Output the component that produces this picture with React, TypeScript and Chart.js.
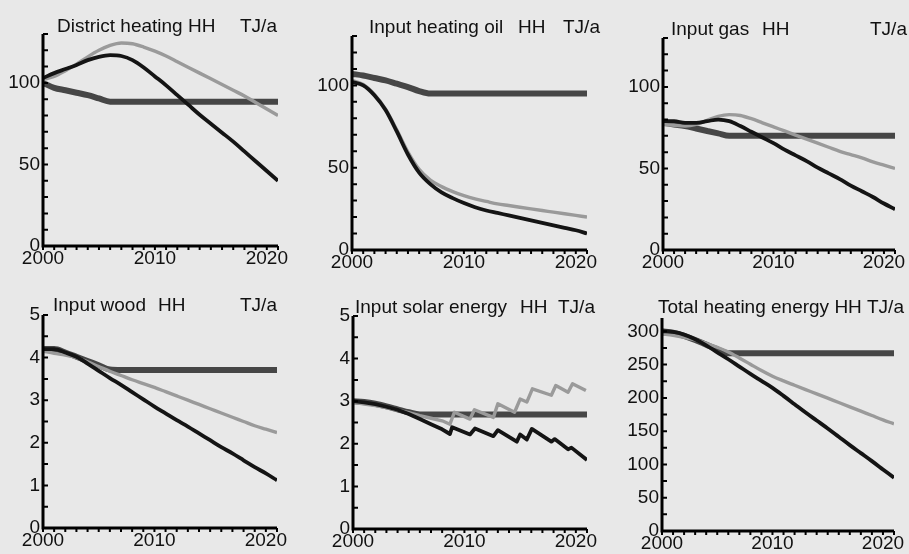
import React, { useEffect, useRef } from "react";
import { Chart, registerables } from "chart.js";

Chart.register(...registerables);

// ---------- data ----------
const YEARS = [2000, 2001, 2002, 2003, 2004, 2005, 2006, 2007, 2008, 2009, 2010, 2011, 2012, 2013, 2014, 2015, 2016, 2017, 2018, 2019, 2020, 2021];

// District heating HH (TJ/a)
const DISTRICT_FLAT = [100, 97, 95.5, 94, 92.5, 90.5, 88.5, 88.5, 88.5, 88.5, 88.5, 88.5, 88.5, 88.5, 88.5, 88.5, 88.5, 88.5, 88.5, 88.5, 88.5, 88.5];
const DISTRICT_DECLINE = [103, 106, 108.5, 111, 114, 116, 117, 116.5, 114, 109.5, 104, 98.5, 92.5, 86.5, 80.5, 75, 69.5, 64, 58, 52, 46, 40];
const DISTRICT_MID = [102, 104, 107.5, 111.5, 116, 120, 123, 124.5, 124, 122, 119.5, 116.5, 113, 109.5, 106, 102.5, 99, 95.5, 92, 88, 84, 80];

// Input heating oil HH (TJ/a)
const OIL_FLAT = [107, 106, 104.5, 103, 101, 99, 96.5, 95, 95, 95, 95, 95, 95, 95, 95, 95, 95, 95, 95, 95, 95, 95];
const OIL_DECLINE = [102, 100, 94, 85, 72, 58, 47, 40, 35, 31.5, 28.5, 26, 24, 22.5, 21, 19.5, 18, 16.5, 15, 13.5, 12, 10];
const OIL_MID = [103, 100.5, 94.5, 85.5, 73, 59.5, 49, 42.5, 38.5, 35.5, 33, 31, 29.5, 28, 27, 26, 25, 24, 23, 22, 21, 20];

// Input gas HH (TJ/a)
const GAS_FLAT = [78, 77, 76, 74.5, 73, 71.5, 70, 70, 70, 70, 70, 70, 70, 70, 70, 70, 70, 70, 70, 70, 70, 70];
const GAS_DECLINE = [79, 79, 78, 78, 79, 80, 79, 76, 72.5, 69, 65.5, 61.5, 58, 54.5, 50.5, 47, 43.5, 39.5, 36, 32.5, 28.5, 25];
const GAS_MID = [77, 76.5, 76, 77, 79.5, 82, 83, 82.5, 80.5, 78, 75.5, 73, 70.5, 68, 65.5, 63, 60.5, 58.5, 56.5, 54, 52, 50];

// Input wood HH (TJ/a)
const WOOD_FLAT = [4.2, 4.2, 4.12, 4.02, 3.92, 3.82, 3.72, 3.71, 3.71, 3.71, 3.71, 3.71, 3.71, 3.71, 3.71, 3.71, 3.71, 3.71, 3.71, 3.71, 3.71, 3.71];
const WOOD_DECLINE = [4.2, 4.2, 4.12, 4.02, 3.86, 3.69, 3.52, 3.36, 3.19, 3.02, 2.85, 2.69, 2.53, 2.38, 2.22, 2.06, 1.9, 1.75, 1.59, 1.43, 1.28, 1.12];
const WOOD_MID = [4.15, 4.1, 4.06, 4.0, 3.9, 3.79, 3.68, 3.58, 3.48, 3.39, 3.3, 3.2, 3.1, 3.0, 2.9, 2.8, 2.7, 2.6, 2.5, 2.4, 2.32, 2.24];

// Input solar energy HH (TJ/a)
const SOLAR_FLAT = [3.0, 2.98, 2.94, 2.88, 2.81, 2.74, 2.69, 2.69, 2.69, 2.69, 2.69, 2.69, 2.69, 2.69, 2.69, 2.69, 2.69, 2.69, 2.69, 2.69, 2.69, 2.69];
const SOLAR_DECLINE_T = [2000, 2001, 2002, 2003, 2004, 2005, 2006, 2007, 2008, 2008.7, 2008.9, 2010.5, 2010.95, 2012.6, 2013.0, 2014.7, 2015.0, 2015.6, 2016.05, 2017.8, 2018.1, 2019.3, 2019.6, 2021];
const SOLAR_DECLINE = [3.0, 2.97, 2.93, 2.87, 2.8, 2.7, 2.58, 2.46, 2.34, 2.23, 2.39, 2.22, 2.36, 2.18, 2.32, 2.05, 2.22, 2.1, 2.35, 2.05, 2.11, 1.87, 1.91, 1.62];
const SOLAR_MID_T = [2000, 2001, 2002, 2003, 2004, 2005, 2006, 2007, 2008, 2008.7, 2009.1, 2010.5, 2010.9, 2012.6, 2013.0, 2014.5, 2015.0, 2015.6, 2016.1, 2017.8, 2018.2, 2019.3, 2019.7, 2020.9];
const SOLAR_MID = [2.98, 2.93, 2.9, 2.85, 2.79, 2.73, 2.66, 2.6, 2.54, 2.46, 2.74, 2.58, 2.8, 2.62, 2.94, 2.74, 3.05, 2.98, 3.29, 3.14, 3.37, 3.21, 3.41, 3.25];

// Total heating energy HH (TJ/a)
const TOTAL_FLAT = [300, 298, 293, 287, 280, 273, 267, 267, 267, 267, 267, 267, 267, 267, 267, 267, 267, 267, 267, 267, 267, 267];
const TOTAL_DECLINE = [300, 299, 295, 288, 279, 268.5, 258, 247, 236, 225.5, 215, 203, 190.5, 178, 166, 154, 141.5, 129, 117, 105, 92.5, 80];
const TOTAL_MID = [296, 294, 291, 287, 282, 276, 269, 260, 250.5, 241, 232.5, 225.5, 219, 212.5, 206, 199.5, 193, 186.5, 180, 173.5, 167, 161];

// ---------- presentation ----------
const W = 909;
const H = 554;
const FONT = '"Liberation Sans", Arial, Helvetica, sans-serif';
const Y_AXIS_W = 40;
const X_AXIS_H = 20;

type Kind = "black" | "gray" | "dark";
const STYLES: Record<Kind, { color: string; width: number }> = {
  black: { color: "#141414", width: 3.8 },
  gray: { color: "#9a9a9a", width: 3.4 },
  dark: { color: "#464646", width: 6 },
};

type Series = { name: string; xs: number[]; ys: number[]; kind: Kind; sharp?: boolean };
type Panel = {
  id: string;
  area: { l: number; t: number; r: number; b: number };
  yMax: number;
  yStep: number;
  yLabelStep: number;
  titleY: number;
  titles: { text: string; x: number }[];
  series: Series[];
};

const PANELS: Panel[] = [
  {
    id: "district",
    area: { l: 43, t: 34, r: 278, b: 246 },
    yMax: 130, yStep: 10, yLabelStep: 50,
    titleY: 32,
    titles: [{ text: "District heating HH", x: 57 }, { text: "TJ/a", x: 240 }],
    series: [
      { name: "decline", xs: YEARS, ys: DISTRICT_DECLINE, kind: "black" },
      { name: "mid", xs: YEARS, ys: DISTRICT_MID, kind: "gray" },
      { name: "flat", xs: YEARS, ys: DISTRICT_FLAT, kind: "dark" },
    ],
  },
  {
    id: "oil",
    area: { l: 352, t: 36, r: 587, b: 250 },
    yMax: 130, yStep: 10, yLabelStep: 50,
    titleY: 33,
    titles: [{ text: "Input heating oil", x: 369 }, { text: "HH", x: 518 }, { text: "TJ/a", x: 563 }],
    series: [
      { name: "decline", xs: YEARS, ys: OIL_DECLINE, kind: "black" },
      { name: "mid", xs: YEARS, ys: OIL_MID, kind: "gray" },
      { name: "flat", xs: YEARS, ys: OIL_FLAT, kind: "dark" },
    ],
  },
  {
    id: "gas",
    area: { l: 663, t: 38, r: 895, b: 250 },
    yMax: 130, yStep: 10, yLabelStep: 50,
    titleY: 35,
    titles: [{ text: "Input gas", x: 671 }, { text: "HH", x: 762 }, { text: "TJ/a", x: 870 }],
    series: [
      { name: "decline", xs: YEARS, ys: GAS_DECLINE, kind: "black" },
      { name: "mid", xs: YEARS, ys: GAS_MID, kind: "gray" },
      { name: "flat", xs: YEARS, ys: GAS_FLAT, kind: "dark" },
    ],
  },
  {
    id: "wood",
    area: { l: 43, t: 315, r: 277, b: 528 },
    yMax: 5, yStep: 0.5, yLabelStep: 1,
    titleY: 311,
    titles: [{ text: "Input wood", x: 53 }, { text: "HH", x: 158 }, { text: "TJ/a", x: 240 }],
    series: [
      { name: "decline", xs: YEARS, ys: WOOD_DECLINE, kind: "black" },
      { name: "mid", xs: YEARS, ys: WOOD_MID, kind: "gray" },
      { name: "flat", xs: YEARS, ys: WOOD_FLAT, kind: "dark" },
    ],
  },
  {
    id: "solar",
    area: { l: 353, t: 316, r: 587, b: 529 },
    yMax: 5, yStep: 0.5, yLabelStep: 1,
    titleY: 313,
    titles: [{ text: "Input solar energy", x: 355 }, { text: "HH", x: 520 }, { text: "TJ/a", x: 558 }],
    series: [
      { name: "decline", xs: SOLAR_DECLINE_T, ys: SOLAR_DECLINE, kind: "black", sharp: true },
      { name: "mid", xs: SOLAR_MID_T, ys: SOLAR_MID, kind: "gray", sharp: true },
      { name: "flat", xs: YEARS, ys: SOLAR_FLAT, kind: "dark" },
    ],
  },
  {
    id: "total",
    area: { l: 662, t: 318, r: 894, b: 531 },
    yMax: 320, yStep: 25, yLabelStep: 50,
    titleY: 313,
    titles: [{ text: "Total heating energy HH", x: 658 }, { text: "TJ/a", x: 867 }],
    series: [
      { name: "decline", xs: YEARS, ys: TOTAL_DECLINE, kind: "black" },
      { name: "mid", xs: YEARS, ys: TOTAL_MID, kind: "gray" },
      { name: "flat", xs: YEARS, ys: TOTAL_FLAT, kind: "dark" },
    ],
  },
];

function PanelChart({ panel }: { panel: Panel }) {
  const ref = useRef<HTMLCanvasElement | null>(null);

  useEffect(() => {
    const canvas = ref.current;
    if (!canvas) return;
    const { area } = panel;

    const decor = {
      id: "decor_" + panel.id,
      afterDraw(chart: any) {
        const ctx = chart.ctx as CanvasRenderingContext2D;
        const { left, right, top, bottom } = chart.chartArea;
        const xs = chart.scales.x;
        const ys = chart.scales.y;
        ctx.save();
        ctx.strokeStyle = "#000";
        // tick marks
        ctx.lineWidth = 2;
        ctx.beginPath();
        ys.ticks.forEach((t: any) => {
          const p = ys.getPixelForValue(t.value);
          ctx.moveTo(left, p);
          ctx.lineTo(left + 5, p);
        });
        xs.ticks.forEach((t: any) => {
          const p = xs.getPixelForValue(t.value);
          ctx.moveTo(p, bottom);
          ctx.lineTo(p, bottom + 4);
        });
        ctx.stroke();
        // axes
        ctx.lineWidth = 3;
        ctx.beginPath();
        ctx.moveTo(left, top);
        ctx.lineTo(left, bottom + 1.5);
        ctx.moveTo(left - 1.5, bottom);
        ctx.lineTo(right, bottom);
        ctx.stroke();
        // titles
        ctx.fillStyle = "#111";
        ctx.font = `19px ${FONT}`;
        ctx.textAlign = "left";
        ctx.textBaseline = "alphabetic";
        panel.titles.forEach((p) => ctx.fillText(p.text, p.x, panel.titleY));
        ctx.restore();
      },
    };

    const chart = new Chart(canvas, {
      type: "line",
      data: {
        datasets: panel.series.map((s) => ({
          label: s.name,
          data: s.xs.map((x, i) => ({ x, y: s.ys[i] })),
          borderColor: STYLES[s.kind].color,
          backgroundColor: STYLES[s.kind].color,
          borderWidth: STYLES[s.kind].width,
          pointRadius: 0,
          fill: false,
          tension: 0,
          cubicInterpolationMode: s.sharp ? "default" : "monotone",
          borderCapStyle: "butt",
          borderJoinStyle: "round",
        })),
      },
      options: {
        animation: false,
        responsive: false,
        events: [],
        layout: {
          padding: {
            left: area.l - Y_AXIS_W,
            top: area.t,
            right: W - area.r,
            bottom: H - area.b - X_AXIS_H,
          },
        },
        plugins: {
          legend: { display: false },
          tooltip: { enabled: false },
          title: { display: false },
        },
        scales: {
          x: {
            type: "linear",
            min: 2000,
            max: 2021,
            afterFit: (s: any) => {
              s.height = X_AXIS_H;
            },
            grid: { display: false, drawTicks: false },
            border: { display: false },
            ticks: {
              stepSize: 1,
              autoSkip: false,
              maxRotation: 0,
              minRotation: 0,
              padding: 1,
              color: "#111",
              font: { family: FONT, size: 19 },
              callback: (v: any) => (Math.round(Number(v)) % 10 === 0 ? String(Math.round(Number(v))) : ""),
            },
          },
          y: {
            type: "linear",
            min: 0,
            max: panel.yMax,
            afterFit: (s: any) => {
              s.width = Y_AXIS_W;
            },
            afterBuildTicks: (s: any) => {
              const list: { value: number }[] = [];
              const n = Math.floor(panel.yMax / panel.yStep + 1e-6);
              for (let i = 0; i <= n; i++) list.push({ value: Math.round(i * panel.yStep * 1000) / 1000 });
              s.ticks = list;
            },
            grid: { display: false, drawTicks: false },
            border: { display: false },
            ticks: {
              autoSkip: false,
              padding: 3,
              color: "#111",
              font: { family: FONT, size: 19 },
              callback: (v: any) => {
                const n = Number(v);
                const r = n / panel.yLabelStep;
                return Math.abs(r - Math.round(r)) < 1e-6 ? String(Math.round(n * 100) / 100) : "";
              },
            },
          },
        },
      },
      plugins: [decor],
    } as any);

    return () => chart.destroy();
  }, [panel]);

  return (
    <canvas
      ref={ref}
      width={W}
      height={H}
      style={{ position: "absolute", left: 0, top: 0, width: W, height: H }}
    />
  );
}

export default function App() {
  return (
    <div
      style={{
        position: "fixed",
        left: 0,
        top: 0,
        width: W,
        height: H,
        background: "#e8e8e8",
        overflow: "hidden",
      }}
    >
      {PANELS.map((p) => (
        <PanelChart key={p.id} panel={p} />
      ))}
    </div>
  );
}
